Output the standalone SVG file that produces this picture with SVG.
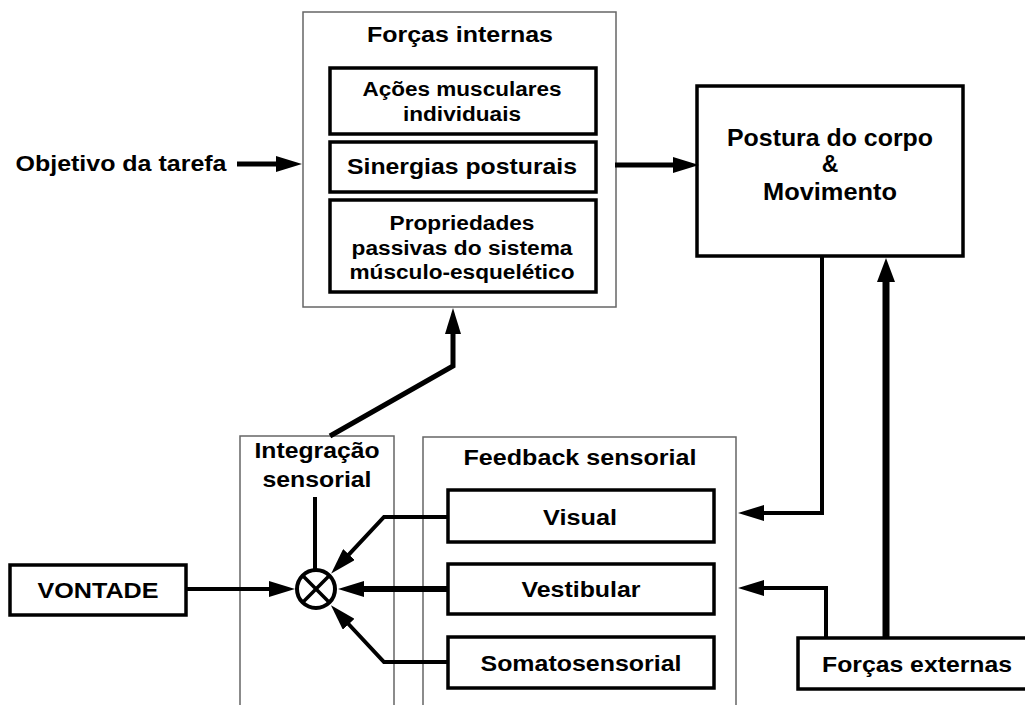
<svg xmlns="http://www.w3.org/2000/svg" width="1025" height="705" viewBox="0 0 1025 705">
<defs>
<style>
text{font-family:"Liberation Sans",Arial,sans-serif;font-weight:bold;fill:#000;text-anchor:middle;font-size:22px}
.sm{font-size:19.5px}
.lg{font-size:23px}
.outer{fill:none;stroke:#666;stroke-width:1.5}
.box{fill:#fff;stroke:#000;stroke-width:3.5}
.ln{fill:none;stroke:#000;stroke-linejoin:miter}
.w4{stroke-width:4}
.w5{stroke-width:5}
.w6{stroke-width:6}
.w7{stroke-width:7}
</style>
<marker id="ah" viewBox="0 -8 26 16" refX="1" refY="0" markerWidth="26" markerHeight="16" markerUnits="userSpaceOnUse" orient="auto">
<path d="M0,-8 L26,0 L0,8 z" fill="#000"/>
</marker>
<marker id="ahw" viewBox="0 -9 24 18" refX="1" refY="0" markerWidth="24" markerHeight="18" markerUnits="userSpaceOnUse" orient="auto">
<path d="M0,-9 L24,0 L0,9 z" fill="#000"/>
</marker>
</defs>
<rect width="1025" height="705" fill="#fff"/>

<g id="forcas-internas">
<rect class="outer" x="303" y="12" width="313" height="295"/>
<text x="460" y="42" textLength="186" lengthAdjust="spacingAndGlyphs">Forças internas</text>
</g>
<g id="acoes">
<rect class="box" x="330" y="68" width="266" height="66"/>
<text class="sm" x="462" y="96" textLength="199" lengthAdjust="spacingAndGlyphs">Ações musculares</text>
<text class="sm" x="462" y="121" textLength="118" lengthAdjust="spacingAndGlyphs">individuais</text>
</g>
<g id="sinergias">
<rect class="box" x="330" y="142" width="266" height="50"/>
<text x="462" y="174" textLength="230" lengthAdjust="spacingAndGlyphs">Sinergias posturais</text>
</g>
<g id="propriedades">
<rect class="box" x="330" y="200" width="266" height="92"/>
<text class="sm" x="462" y="230" textLength="145" lengthAdjust="spacingAndGlyphs">Propriedades</text>
<text class="sm" x="462" y="255" textLength="221" lengthAdjust="spacingAndGlyphs">passivas do sistema</text>
<text class="sm" x="462" y="279" textLength="225" lengthAdjust="spacingAndGlyphs">músculo-esquelético</text>
</g>
<g id="objetivo">
<text x="121" y="171" textLength="211" lengthAdjust="spacingAndGlyphs">Objetivo da tarefa</text>
</g>
<g id="postura">
<rect class="box" x="697" y="86" width="266" height="170" stroke-width="4"/>
<text class="lg" x="830" y="146" textLength="206" lengthAdjust="spacingAndGlyphs">Postura do corpo</text>
<text class="lg" x="830" y="172">&amp;</text>
<text class="lg" x="830" y="200" textLength="134" lengthAdjust="spacingAndGlyphs">Movimento</text>
</g>
<g id="vontade">
<rect class="box" x="10" y="565" width="176" height="50"/>
<text x="98" y="598" textLength="121" lengthAdjust="spacingAndGlyphs">VONTADE</text>
</g>
<g id="integracao">
<path class="outer" d="M240,710 V436 H394 V710"/>
<text x="317" y="458" textLength="125" lengthAdjust="spacingAndGlyphs">Integração</text>
<text x="317" y="487" textLength="109" lengthAdjust="spacingAndGlyphs">sensorial</text>
</g>
<g id="comparador">
<circle cx="316" cy="589" r="19" fill="#fff" stroke="#000" stroke-width="4"/>
<path d="M302.6,575.6 L329.4,602.4 M329.4,575.6 L302.6,602.4" stroke="#000" stroke-width="3.5"/>
</g>
<g id="feedback">
<path class="outer" d="M423,710 V437 H736 V710"/>
<text x="580" y="465" textLength="233" lengthAdjust="spacingAndGlyphs">Feedback sensorial</text>
</g>
<g id="visual">
<rect class="box" x="448" y="490" width="266" height="52"/>
<text x="580" y="525" textLength="74" lengthAdjust="spacingAndGlyphs">Visual</text>
</g>
<g id="vestibular">
<rect class="box" x="448" y="564" width="266" height="50"/>
<text x="581" y="597" textLength="119" lengthAdjust="spacingAndGlyphs">Vestibular</text>
</g>
<g id="somatosensorial">
<rect class="box" x="448" y="637" width="266" height="51"/>
<text x="581" y="671" textLength="201" lengthAdjust="spacingAndGlyphs">Somatosensorial</text>
</g>
<g id="forcas-externas">
<rect class="box" x="798" y="638" width="240" height="51"/>
<text x="917" y="672" textLength="190" lengthAdjust="spacingAndGlyphs">Forças externas</text>
</g>

<g id="connectors">
<path class="ln w5" d="M237,164 H277" marker-end="url(#ah)"/>
<path class="ln w5" d="M615,165 H674" marker-end="url(#ah)"/>
<path class="ln w5" d="M330,436 L453,366 V333" marker-end="url(#ah)"/>
<path class="ln w4" d="M822,256 V513 H763" marker-end="url(#ah)"/>
<path class="ln w4" d="M826,638 V588 H763" marker-end="url(#ah)"/>
<path class="ln w7" d="M886,638 V281" marker-end="url(#ahw)"/>
<path class="ln w4" d="M186,589 H270" marker-end="url(#ah)"/>
<path class="ln w4" d="M315,497 V570"/>
<path class="ln w4" d="M448,517 H384 L348.3,555.2" marker-end="url(#ah)"/>
<path class="ln w6" d="M448,589 H363" marker-end="url(#ah)"/>
<path class="ln w4" d="M448,662 H384 L348.0,623.5" marker-end="url(#ah)"/>
</g>
</svg>
